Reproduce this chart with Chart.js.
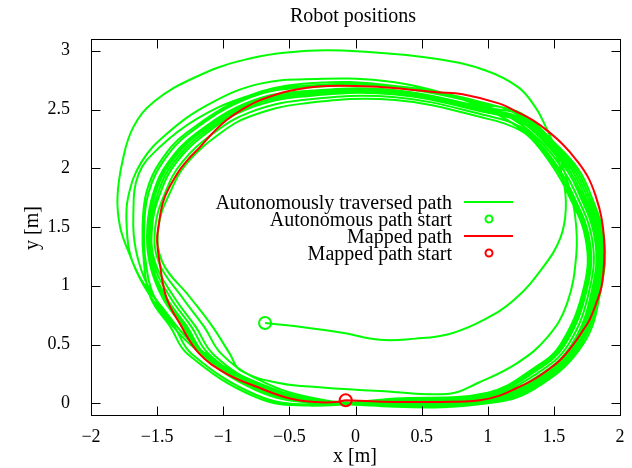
<!DOCTYPE html>
<html><head><meta charset="utf-8">
<script src="https://cdn.jsdelivr.net/npm/chart.js@4"></script>
<style>html,body{margin:0;padding:0;background:#fff}canvas{display:block}</style>
</head><body>
<canvas id="c" width="632" height="468"></canvas>
<script>
// ---- tick labels ----
const xTicks = [-2, -1.5, -1, -0.5, 0, 0.5, 1, 1.5, 2];
const yTicks = [0, 0.5, 1, 1.5, 2, 2.5, 3];

// ---- mapped path (red) ----
const mappedStart = [[-0.074, 0.026]];
const mappedPath = [[-0.074,0.026],[0.2,0.012],[0.5,0.01],[0.72,0.012],[0.94,0.025],[1.09,0.065],[1.22,0.13],[1.345,0.2],[1.45,0.28],[1.546,0.366],[1.64,0.49],[1.72,0.62],[1.77,0.71],[1.82,0.85],[1.86,0.99],[1.88,1.2],[1.88,1.39],[1.86,1.58],[1.82,1.75],[1.76,1.92],[1.67,2.07],[1.57,2.2],[1.45,2.32],[1.34,2.41],[1.22,2.48],[1.09,2.55],[0.81,2.63],[0.614,2.647],[0.4,2.67],[0.21,2.69],[-0.215,2.70],[-0.495,2.66],[-0.72,2.58],[-0.85,2.505],[-0.974,2.41],[-1.08,2.3],[-1.176,2.18],[-1.27,2.07],[-1.35,1.95],[-1.45,1.73],[-1.49,1.50],[-1.50,1.39],[-1.48,1.19],[-1.43,0.90],[-1.33,0.68],[-1.18,0.42],[-0.974,0.25],[-0.747,0.14],[-0.495,0.04],[-0.3,0.01],[-0.15,0.01],[-0.074,0.026]];

// ---- autonomously traversed path (green), lap by lap ----
const autoStart = [[-0.684, 0.683]];
const autoLap0 = [[-0.684,0.683],[-0.45,0.655],[-0.1,0.6],[0.185,0.54],[0.45,0.55],[0.71,0.59],[0.97,0.71],[1.2,0.88],[1.42,1.16],[1.55,1.41],[1.59,1.65],[1.57,1.9],[1.47,2.2],[1.22,2.41],[1.0,2.505],[0.3,2.658],[-0.4,2.648],[-0.8,2.557],[-1.19,2.3],[-1.407,2.05],[-1.517,1.8],[-1.568,1.5],[-1.551,1.2],[-1.445,0.9],[-1.288,0.65],[-1.158,0.42],[-0.75,0.12],[-0.35,0.012]];
const autoLap1 = [[0.3,0.005],[1.0,0.045],[1.35,0.21],[1.635,0.5],[1.795,1.0],[1.81,1.4],[1.685,1.8],[1.59,2.0],[1.445,2.2],[1.25,2.395],[1.0,2.472],[0.3,2.628],[-0.4,2.61],[-0.8,2.512],[-1.124,2.3],[-1.354,2.05],[-1.472,1.8],[-1.538,1.5],[-1.516,1.2],[-1.37,0.9],[-1.208,0.65],[-1.078,0.42],[-0.75,0.17],[-0.35,0.034]];
const autoLap2 = [[0.3,-0.023],[1.0,0.009],[1.35,0.138],[1.703,0.5],[1.847,1.0],[1.866,1.4],[1.753,1.8],[1.662,2.0],[1.505,2.2],[1.25,2.455],[1.0,2.511],[0.3,2.664],[-0.4,2.655],[-0.8,2.566],[-1.202,2.3],[-1.417,2.05],[-1.526,1.8],[-1.574,1.5],[-1.558,1.2],[-1.46,0.9],[-1.304,0.65],[-1.174,0.42],[-0.75,0.11],[-0.35,0.007]];
const autoLap3 = [[0.3,0.026],[1.0,0.072],[1.35,0.264],[1.584,0.5],[1.756,1.0],[1.768,1.4],[1.634,1.8],[1.536,2.0],[1.4,2.2],[1.25,2.35],[1.0,2.446],[0.3,2.604],[-0.4,2.58],[-0.8,2.476],[-1.072,2.3],[-1.312,2.05],[-1.436,1.8],[-1.514,1.5],[-1.488,1.2],[-1.31,0.9],[-1.144,0.65],[-1.014,0.42],[-0.75,0.21],[-0.35,0.052]];
const autoLap4 = [[0.3,-0.03],[1.0,0.0],[1.35,0.12],[1.72,0.5],[1.86,1.0],[1.88,1.4],[1.77,1.8],[1.68,2.0],[1.52,2.2],[1.25,2.47],[1.0,2.537],[0.3,2.688],[-0.4,2.685],[-0.8,2.602],[-1.254,2.3],[-1.459,2.05],[-1.562,1.8],[-1.598,1.5],[-1.586,1.2],[-1.52,0.9],[-1.368,0.65],[-1.238,0.42],[-0.75,0.07],[-0.35,-0.011]];
const autoLap5 = [[0.3,0.04],[1.0,0.09],[1.35,0.3],[1.55,0.5],[1.73,1.0],[1.74,1.4],[1.6,1.8],[1.5,2.0],[1.37,2.2],[1.25,2.32],[1.0,2.42],[0.3,2.58],[-0.4,2.55],[-0.8,2.44],[-1.02,2.3],[-1.27,2.05],[-1.40,1.8],[-1.49,1.5],[-1.46,1.2],[-1.25,0.9],[-1.08,0.65],[-0.95,0.42]];
const autoLapA = [[-0.87,0.28],[-0.57,0.17],[-0.25,0.135],[0.185,0.105],[0.71,0.08],[0.92,0.17],[1.22,0.34],[1.45,0.56],[1.6,0.85],[1.67,1.27],[1.66,1.6],[1.6,1.9],[1.52,2.15],[1.44,2.35],[1.36,2.52],[1.23,2.69],[0.99,2.83],[0.62,2.93],[0.1,2.99],[-0.36,3.0],[-0.85,2.92],[-1.22,2.77],[-1.52,2.57],[-1.68,2.35],[-1.76,2.07],[-1.8,1.75],[-1.78,1.5],[-1.72,1.3],[-1.62,1.05],[-1.45,0.8],[-1.27,0.55],[-1.05,0.35],[-0.75,0.18],[-0.35,0.04]];
const autoLap6 = [[0.3,-0.002],[1.0,0.036],[1.35,0.192],[1.652,0.5],[1.808,1.0],[1.824,1.4],[1.702,1.8],[1.608,2.0],[1.46,2.2],[1.25,2.41],[1.0,2.485],[0.3,2.64],[-0.4,2.625],[-0.8,2.53],[-1.15,2.3],[-1.375,2.05],[-1.49,1.8],[-1.55,1.5],[-1.53,1.2],[-1.4,0.9],[-1.24,0.65],[-1.11,0.42],[-0.75,0.15],[-0.35,0.025]];
const autoLap7 = [[0.3,-0.016],[1.0,0.018],[1.35,0.156],[1.686,0.5],[1.834,1.0],[1.852,1.4],[1.736,1.8],[1.644,2.0],[1.49,2.2],[1.25,2.44],[1.0,2.55],[0.3,2.70],[-0.4,2.70],[-0.8,2.62],[-1.28,2.3],[-1.48,2.05],[-1.58,1.8],[-1.61,1.5],[-1.60,1.2],[-1.55,0.9],[-1.40,0.65],[-1.27,0.42],[-0.75,0.05],[-0.35,-0.02]];
const autoLap8 = [[0.3,0.033],[1.0,0.081],[1.35,0.282],[1.567,0.5],[1.743,1.0],[1.754,1.4],[1.617,1.8],[1.518,2.0],[1.385,2.2],[1.25,2.335]];
const autoLapB = [[1.0,2.5],[0.6,2.66],[0.2,2.745],[-0.3,2.76],[-0.72,2.72],[-1.1,2.55],[-1.42,2.3],[-1.62,2.05],[-1.72,1.75],[-1.73,1.5],[-1.7,1.25],[-1.6,1.0],[-1.45,0.75],[-1.25,0.5],[-1.0,0.3],[-0.75,0.16],[-0.35,0.03]];
const autoLap9 = [[0.3,-0.009],[1.0,0.027],[1.35,0.174],[1.669,0.5],[1.821,1.0],[1.838,1.4],[1.719,1.8],[1.626,2.0],[1.475,2.2],[1.25,2.425],[1.0,2.498],[0.3,2.652],[-0.4,2.64],[-0.8,2.548],[-1.176,2.3],[-1.396,2.05],[-1.508,1.8],[-1.562,1.5],[-1.544,1.2],[-1.43,0.9],[-1.272,0.65],[-1.142,0.42],[-0.75,0.13],[-0.35,0.016]];
const autoLap10 = [[0.3,0.016],[1.0,0.059],[1.35,0.237],[1.61,0.5],[1.776,1.0],[1.789,1.4],[1.66,1.8],[1.563,2.0],[1.423,2.2],[1.25,2.373],[1.0,2.524]];
const autoLapC = [[0.3,2.7],[-0.4,2.72],[-0.85,2.6],[-1.2,2.42],[-1.48,2.18],[-1.64,1.95],[-1.68,1.6],[-1.66,1.3],[-1.57,1.0],[-1.4,0.72],[-1.2,0.48],[-0.95,0.28],[-0.7,0.13],[-0.35,0.03],[0.3,0.0],[0.8,0.02]];

const autoPath = [].concat(autoLap0, autoLap1, autoLap2, autoLap3, autoLap4, autoLap5, autoLapA,
  autoLap6, autoLap7, autoLap8, autoLapB, autoLap9, autoLap10, autoLapC);

const GREEN = '#00ff00', RED = '#ff0000';
const FONT = '"Liberation Serif", "Times New Roman", serif';
const FS = 20, TICK_FS = 18;
const toXY = a => a.map(p => ({x: p[0], y: p[1]}));
const fmt = v => String(v).replace('-', '\u2212');

const framePlugin = {
  id: 'frame',
  afterDraw(chart) {
    const {ctx, chartArea: a, scales: {x, y}} = chart;
    ctx.save();
    ctx.strokeStyle = '#000';
    ctx.lineWidth = 1;
    const L = Math.round(a.left) + 0.5, R = Math.round(a.right) + 0.5,
          T = Math.round(a.top) + 0.5, B = Math.round(a.bottom) + 0.5;
    ctx.beginPath();
    xTicks.forEach(v => {
      const px = Math.round(x.getPixelForValue(v)) + 0.5;
      ctx.moveTo(px, B); ctx.lineTo(px, B - 9);
      ctx.moveTo(px, T); ctx.lineTo(px, T + 9);
    });
    yTicks.forEach(v => {
      const py = Math.round(y.getPixelForValue(v)) + 0.5;
      ctx.moveTo(L, py); ctx.lineTo(L + 9, py);
      ctx.moveTo(R, py); ctx.lineTo(R - 9, py);
    });
    ctx.stroke();
    ctx.strokeRect(L, T, R - L, B - T);

    ctx.fillStyle = '#000';
    ctx.font = FS + 'px ' + FONT;
    ctx.textAlign = 'center';
    ctx.textBaseline = 'middle';
    ctx.fillText('Robot positions', 353, 17);
    ctx.fillText('x [m]', 355, 457);
    ctx.save();
    ctx.translate(33, 228);
    ctx.rotate(-Math.PI / 2);
    ctx.fillText('y [m]', 0, 0);
    ctx.restore();

    // key
    const ds = chart.data.datasets;
    const entries = [[ds[3], 'line'], [ds[1], 'point'], [ds[2], 'line'], [ds[0], 'point']];
    const rows = [202, 219, 236, 253];
    ctx.textAlign = 'right';
    entries.forEach((e, i) => {
      const r = rows[i];
      ctx.fillStyle = '#000';
      ctx.fillText(e[0].label, 452, r + 2);
      ctx.strokeStyle = e[0].borderColor;
      ctx.lineWidth = 2;
      ctx.beginPath();
      if (e[1] === 'line') { ctx.moveTo(464, r); ctx.lineTo(513, r); }
      else { ctx.arc(489, r, 3.5, 0, Math.PI * 2); }
      ctx.stroke();
    });
    ctx.restore();
  }
};

new Chart(document.getElementById('c'), {
  type: 'scatter',
  data: {
    datasets: [
      {label: 'Mapped path start', data: toXY(mappedStart), showLine: false, pointRadius: 6,
       borderWidth: 2, pointBorderWidth: 2, borderColor: RED, backgroundColor: 'rgba(0,0,0,0)', order: 0},
      {label: 'Autonomous path start', data: toXY(autoStart), showLine: false, pointRadius: 6,
       borderWidth: 2, pointBorderWidth: 2, borderColor: GREEN, backgroundColor: 'rgba(0,0,0,0)', order: 1},
      {label: 'Mapped path', data: toXY(mappedPath), showLine: true, borderColor: RED, borderWidth: 2,
       pointRadius: 0, tension: 0.4, order: 2},
      {label: 'Autonomously traversed path', data: toXY(autoPath), showLine: true, borderColor: GREEN,
       borderWidth: 2, pointRadius: 0, tension: 0.4, order: 3}
    ]
  },
  options: {
    responsive: false, animation: false, devicePixelRatio: 1, events: [],
    layout: {padding: {top: 39, right: 12, left: 0, bottom: 0}},
    plugins: {legend: {display: false}, tooltip: {enabled: false}, title: {display: false}},
    scales: {
      x: {type: 'linear', min: -2, max: 2,
          afterBuildTicks: s => { s.ticks = xTicks.map(v => ({value: v})); },
          afterFit: s => { s.height = 53; },
          grid: {display: false}, border: {display: false},
          ticks: {font: {family: FONT, size: TICK_FS}, color: '#000', padding: 3, maxRotation: 0, autoSkip: false,
                  callback: v => fmt(v)}},
      y: {type: 'linear', min: -0.1, max: 3.1,
          afterBuildTicks: s => { s.ticks = yTicks.map(v => ({value: v})); },
          afterFit: s => { s.width = 91; },
          grid: {display: false}, border: {display: false},
          ticks: {font: {family: FONT, size: TICK_FS}, color: '#000', padding: 13, autoSkip: false,
                  callback: v => fmt(v)}}
    }
  },
  plugins: [framePlugin]
});
</script>
</body></html>
